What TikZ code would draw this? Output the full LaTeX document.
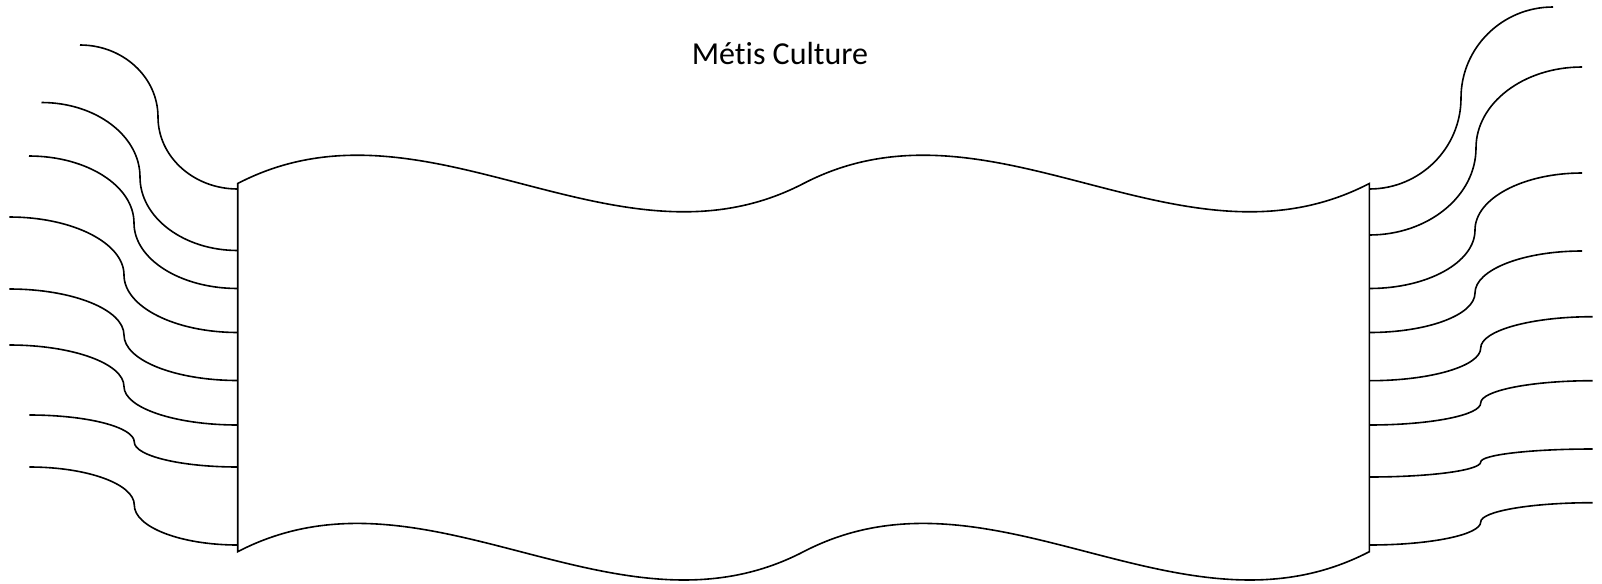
\documentclass[tikz,border=0pt]{standalone}
\usepackage{fontspec}
\setmainfont{Carlito}[Ligatures=NoCommon,Contextuals=NoAlternate]
\tikzset{
  bannerline/.style={draw=black, line width=0.8pt, line join=miter},
  streamerline/.style={draw=black, line width=0.8pt},
  titletext/.style={font=\fontsize{16}{19}\selectfont, anchor=base, inner sep=0pt}
}
% streamer: start (#1,#2) horizontal tangent, middle (#3,#4) vertical tangent, end (#5,#6) horizontal tangent
\newcommand{\mystreamer}[6]{%
  \pgfmathsetmacro\stA{#1+0.5523*(#3-#1)}%
  \pgfmathsetmacro\stB{#4-0.5523*(#4-#2)}%
  \pgfmathsetmacro\stC{#4+0.5523*(#6-#4)}%
  \pgfmathsetmacro\stD{#5-0.5523*(#5-#3)}%
  \draw[streamerline] (#1,#2) .. controls (\stA,#2) and (#3,\stB) .. (#3,#4)
     .. controls (#3,\stC) and (\stD,#6) .. (#5,#6);}
\begin{document}
\begin{tikzpicture}[x=0.5pt,y=-0.5pt]
\useasboundingbox (0,0) rectangle (1602,584);
% banner
\draw[bannerline] (237.7,183.5) .. controls (426.3,85.5) and (614.9,281.5) .. (803.5,183.5)
  .. controls (992.1,85.5) and (1180.7,281.5) .. (1369.3,183.5)
  -- (1369.3,551.7)
  .. controls (1180.7,649.7) and (992.1,453.7) .. (803.5,551.7)
  .. controls (614.9,649.7) and (426.3,453.7) .. (237.7,551.7) -- cycle;
% left streamers
\mystreamer{80}{45}{158}{117}{237.7}{189}
\mystreamer{41.5}{102.5}{140}{177}{237.7}{250.5}
\mystreamer{29}{156}{134}{223}{237.7}{288.5}
\mystreamer{9.3}{217}{124}{275}{237.7}{332.5}
\mystreamer{9.3}{289}{124}{335}{237.7}{380.5}
\mystreamer{9.3}{345}{124}{386.5}{237.7}{425}
\mystreamer{29.3}{415}{134.3}{442}{237.7}{467}
\mystreamer{29.3}{467}{134.3}{505}{237.7}{545}
% right streamers
\mystreamer{1369.3}{189}{1461}{98}{1553}{7}
\mystreamer{1369.3}{235}{1476}{148}{1582}{67}
\mystreamer{1369.3}{288.5}{1475}{230}{1582}{173}
\mystreamer{1369.3}{332.5}{1475}{293}{1582}{251}
\mystreamer{1369.3}{380.7}{1480.7}{348}{1592.7}{316.7}
\mystreamer{1369.3}{425}{1480.7}{403}{1592.7}{380.7}
\mystreamer{1369.3}{477}{1480.7}{462}{1592.7}{449}
\mystreamer{1369.3}{545}{1480.7}{522}{1592.7}{502.7}
% title
\node[titletext] (title) at (780,64) {Mét\kern0pt is Culture};
\end{tikzpicture}
\end{document}
